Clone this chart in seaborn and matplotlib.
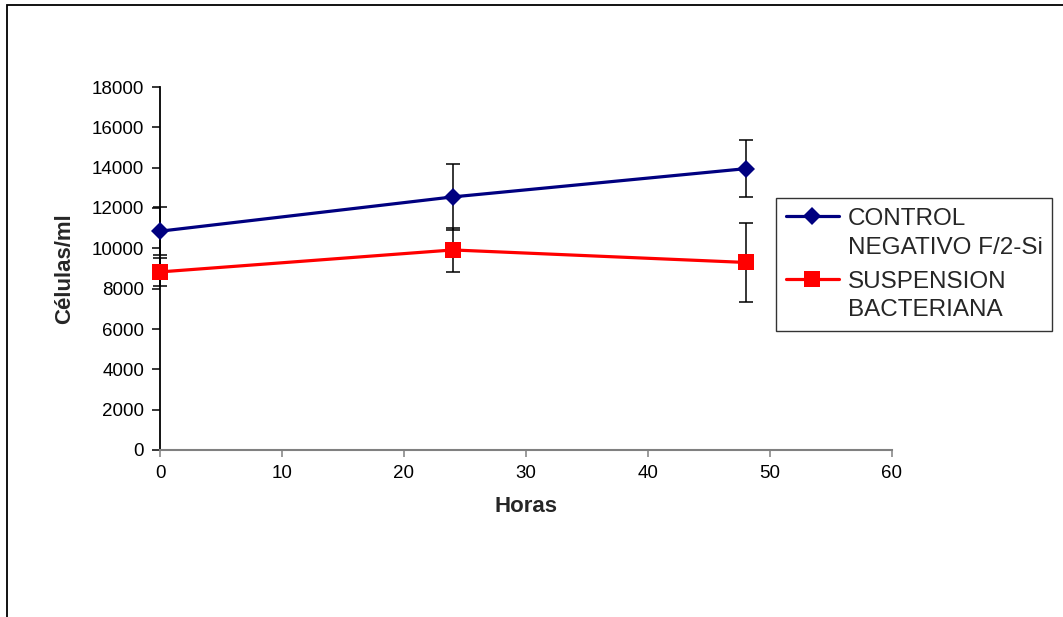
import matplotlib
matplotlib.use("Agg")
import matplotlib.pyplot as plt
import seaborn as sns
import pandas as pd
from matplotlib.patches import Rectangle
from matplotlib.legend_handler import HandlerLine2D
from matplotlib.transforms import Affine2D

# ---- data ----
horas = [0, 24, 48]
control = [10850, 12550, 13950]
control_err = [1200, 1620, 1420]
suspension = [8830, 9920, 9300]
suspension_err = [700, 1070, 1950]
label_control = "CONTROL\nNEGATIVO F/2-Si"
label_susp = "SUSPENSION\nBACTERIANA"
xticks = [0, 10, 20, 30, 40, 50, 60]
yticks = [0, 2000, 4000, 6000, 8000, 10000, 12000, 14000, 16000, 18000]

sns.set_theme(style="white")
plt.rcParams['font.family'] = ['Liberation Sans', 'DejaVu Sans']

fig = plt.figure(figsize=(10.63, 6.17), dpi=100)
ax = fig.add_axes([160/1063, 1-450/617, (892-160)/1063, (450-87)/617])

df_c = pd.DataFrame({"Horas": horas, "Células/ml": control, "Serie": label_control})
df_s = pd.DataFrame({"Horas": horas, "Células/ml": suspension, "Serie": label_susp})

# error bars (behind markers)
for yv, ev in [(control, control_err), (suspension, suspension_err)]:
    eb = ax.errorbar(horas, yv, yerr=ev, fmt='none', ecolor='black',
                     elinewidth=1.1, capsize=4.9, capthick=1.1, zorder=2)
    for art in eb.get_children():
        art.set_clip_on(False)

sns.lineplot(data=df_c, x="Horas", y="Células/ml", ax=ax, color="#000080",
             marker="D", markersize=9.5, markeredgewidth=0, linewidth=2.3,
             label=label_control, zorder=3, clip_on=False)
sns.lineplot(data=df_s, x="Horas", y="Células/ml", ax=ax, color="#FF0000",
             marker="s", markersize=11.5, markeredgewidth=0, linewidth=2.3,
             label=label_susp, zorder=3, clip_on=False)

ax.set_xlim(0, 60)
ax.set_ylim(0, 18000)
ax.set_xticks(xticks)
ax.set_yticks(yticks)
ax.tick_params(axis='both', labelsize=13.5, colors='black')
ax.tick_params(axis='y', direction='out', length=5.5, width=1.1, left=True, pad=6)
ax.tick_params(axis='x', direction='out', length=5, width=1.1, bottom=True,
               color='#808080', pad=6)

for s in ['top', 'right']:
    ax.spines[s].set_visible(False)
ax.spines['left'].set_color('black')
ax.spines['left'].set_linewidth(1.3)
ax.spines['bottom'].set_color('#808080')
ax.spines['bottom'].set_linewidth(1.5)

ax.set_xlabel("Horas", fontsize=16, fontweight='bold', labelpad=10)
ax.set_ylabel("Células/ml", fontsize=16, fontweight='bold', labelpad=12)


class ShiftHandler(HandlerLine2D):
    def __init__(self, shift, **kw):
        super().__init__(**kw)
        self.shift = shift

    def create_artists(self, legend, orig_handle, xdescent, ydescent, width,
                       height, fontsize, trans):
        arts = super().create_artists(legend, orig_handle, xdescent, ydescent,
                                      width, height, fontsize, trans)
        for a in arts:
            a.set_transform(Affine2D().translate(0, self.shift) + trans)
        return arts


leg_fs = 17.5
handles, labels = ax.get_legend_handles_labels()
leg = ax.legend(handles, labels, loc='upper left',
                bbox_to_anchor=(776/1063, 1-198/617),
                bbox_transform=fig.transFigure, fontsize=leg_fs, frameon=True,
                fancybox=False, edgecolor='black', handlelength=2.2,
                handletextpad=0.35, borderpad=0.4, labelspacing=0.5,
                borderaxespad=0,
                handler_map={h: ShiftHandler(0.7 * leg_fs) for h in handles})
for t in leg.get_texts():
    t.set_linespacing(1.4)
leg.get_frame().set_linewidth(1.0)

# figure border
fig.patches.append(Rectangle((7/1063, -0.1), 1.2, 1.1 - 5/617,
                             transform=fig.transFigure, fill=False,
                             edgecolor='black', linewidth=1.3, zorder=0))

fig.savefig("out.png", dpi=100, facecolor='white')
